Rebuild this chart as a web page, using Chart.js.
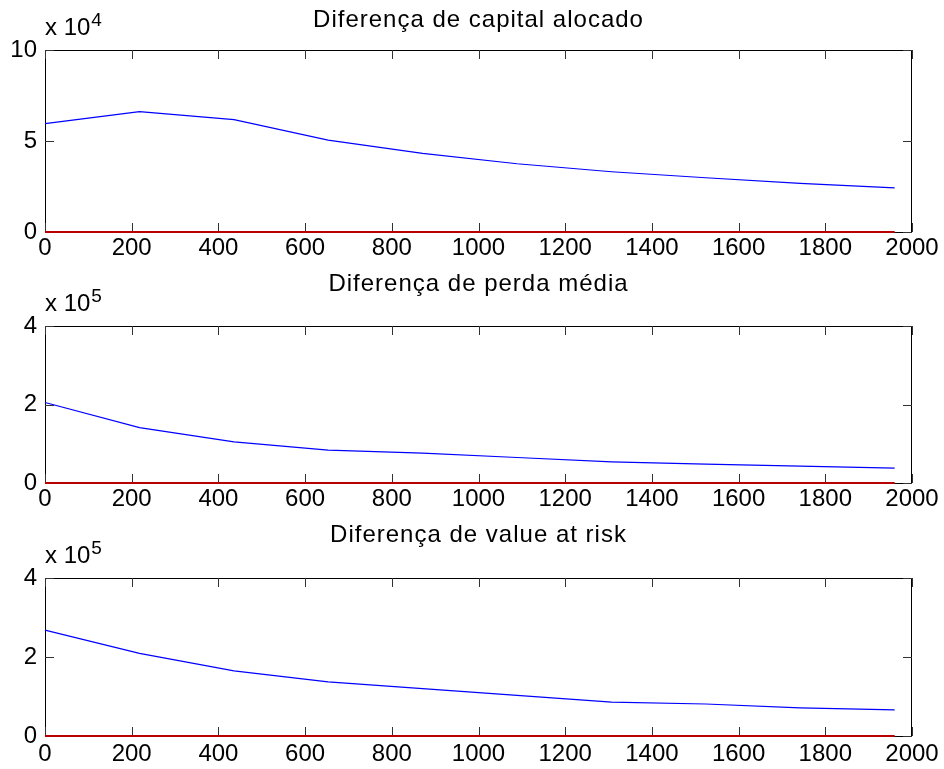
<!DOCTYPE html>
<html>
<head>
<meta charset="utf-8">
<script src="https://cdn.jsdelivr.net/npm/chart.js@4.4.1/dist/chart.umd.min.js"></script>
<style>
body { margin: 0; background: #fff; }
#wrap { position: relative; width: 944px; height: 769px; }
canvas { position: absolute; left: 0; }
</style>
</head>
<body>
<div id="wrap">
<canvas id="chart1" width="944" height="262" style="top:0px"></canvas>
<canvas id="chart2" width="944" height="252" style="top:262px"></canvas>
<canvas id="chart3" width="944" height="255" style="top:514px"></canvas>
</div>
<script>
// x positions of the points (same for every subplot)
var xValues = [0, 218, 436, 653, 871, 1089, 1307, 1524, 1742, 1960];

// blue series
var capitalAlocado = [59500, 66100, 61700, 50500, 43200, 37500, 33100, 29800, 26700, 24200];
var perdaMedia = [205000, 141000, 105000, 84000, 76000, 65000, 54000, 48000, 43000, 38000];
var valueAtRisk = [268000, 209000, 165000, 137000, 120000, 103000, 86000, 81000, 71000, 66000];

// red series (flat at zero)
var zeroLine = [0, 0, 0, 0, 0, 0, 0, 0, 0, 0];

// tick labels
var xTicks = [0, 200, 400, 600, 800, 1000, 1200, 1400, 1600, 1800, 2000];
var yTicksCapital = [0, 50000, 100000];
var yTicksPerda = [0, 200000, 400000];
var yTicksVar = [0, 200000, 400000];

var FONT = '"Liberation Sans", Arial, Helvetica, sans-serif';
var TICK_LEN = 9;

// MATLAB-like box with inward ticks, title and "x 10^n" label
var matlabAxes = {
    id: 'matlabAxes',
    beforeDatasetsDraw: function (chart) {
        var ctx = chart.ctx;
        var a = chart.chartArea;
        var xs = chart.scales.x;
        var ys = chart.scales.y;
        ctx.save();
        ctx.strokeStyle = '#000';
        ctx.lineWidth = 1;
        ctx.strokeRect(a.left + 0.5, a.top + 0.5, a.right - a.left - 1, a.bottom - a.top);

        ctx.strokeStyle = '#333';
        ctx.beginPath();
        xs.ticks.forEach(function (t) {
            var px = Math.round(xs.getPixelForValue(t.value)) + 0.5;
            ctx.moveTo(px, a.bottom);
            ctx.lineTo(px, a.bottom - TICK_LEN);
            ctx.moveTo(px, a.top);
            ctx.lineTo(px, a.top + TICK_LEN);
        });
        ys.ticks.forEach(function (t) {
            var py = Math.round(ys.getPixelForValue(t.value)) + 0.5;
            ctx.moveTo(a.left, py);
            ctx.lineTo(a.left + TICK_LEN, py);
            ctx.moveTo(a.right, py);
            ctx.lineTo(a.right - TICK_LEN, py);
        });
        ctx.stroke();
        ctx.restore();
    },
    afterDraw: function (chart, args, opts) {
        var ctx = chart.ctx;
        var a = chart.chartArea;
        ctx.save();
        ctx.fillStyle = '#000';
        ctx.textBaseline = 'alphabetic';

        ctx.font = '24px ' + FONT;
        ctx.letterSpacing = '1px';
        ctx.textAlign = 'center';
        ctx.fillText(opts.title, (a.left + a.right) / 2, a.top - opts.titleGap);
        ctx.letterSpacing = '0px';

        ctx.textAlign = 'left';
        ctx.font = '24px ' + FONT;
        var base = 'x 10';
        ctx.fillText(base, a.left, a.top - 15);
        var w = ctx.measureText(base).width;
        ctx.font = '19px ' + FONT;
        ctx.fillText(String(opts.exponent), a.left + w + 1, a.top - 24);
        ctx.restore();
    }
};

function createSubplot(id, title, titleGap, exponent, values, yTicks, topPad, xAxisHeight, xPad) {
    var ctx = document.getElementById(id).getContext('2d');
    var factor = Math.pow(10, exponent);

    var blueData = xValues.map(function (x, i) { return { x: x, y: values[i] }; });
    var redData = xValues.map(function (x, i) { return { x: x, y: zeroLine[i] }; });

    return new Chart(ctx, {
        type: 'line',
        data: {
            datasets: [{
                data: blueData,
                borderColor: '#0000ff',
                borderWidth: 1.2,
                pointRadius: 0,
                tension: 0,
                clip: 4
            }, {
                data: redData,
                borderColor: '#b80000',
                borderWidth: 2,
                pointRadius: 0,
                tension: 0,
                clip: 4
            }]
        },
        options: {
            responsive: false,
            animation: false,
            events: [],
            layout: { padding: { top: topPad, right: 32, bottom: 0, left: 0 } },
            plugins: {
                legend: { display: false },
                title: { display: false },
                tooltip: { enabled: false },
                matlabAxes: { title: title, titleGap: titleGap, exponent: exponent }
            },
            scales: {
                x: {
                    type: 'linear',
                    min: xTicks[0],
                    max: xTicks[xTicks.length - 1],
                    grid: { display: false, drawTicks: false },
                    border: { display: false },
                    afterBuildTicks: function (scale) {
                        scale.ticks = xTicks.map(function (v) { return { value: v }; });
                    },
                    afterFit: function (scale) { scale.height = xAxisHeight; },
                    ticks: {
                        autoSkip: false,
                        maxRotation: 0,
                        padding: xPad,
                        color: '#000',
                        font: { family: FONT, size: 24 },
                        callback: function (v) { return String(v); }
                    }
                },
                y: {
                    type: 'linear',
                    min: yTicks[0],
                    max: yTicks[yTicks.length - 1],
                    grid: { display: false, drawTicks: false },
                    border: { display: false },
                    afterBuildTicks: function (scale) {
                        scale.ticks = yTicks.map(function (v) { return { value: v }; });
                    },
                    afterFit: function (scale) { scale.width = 45; },
                    ticks: {
                        padding: 8,
                        color: '#000',
                        font: { family: FONT, size: 24 },
                        callback: function (v) { return String(Math.round(v / factor)); }
                    }
                }
            }
        },
        plugins: [matlabAxes]
    });
}

createSubplot('chart1', 'Diferença de capital alocado', 23, 4, capitalAlocado, yTicksCapital, 50, 30, 2);
createSubplot('chart2', 'Diferença de perda média', 35, 5, perdaMedia, yTicksPerda, 64, 31, 2);
createSubplot('chart3', 'Diferença de value at risk', 36, 5, valueAtRisk, yTicksVar, 64, 33, 4);
</script>
</body>
</html>
